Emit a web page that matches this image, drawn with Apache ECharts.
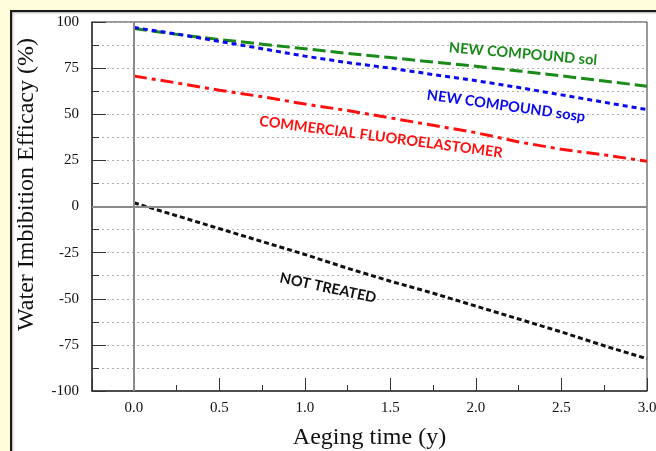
<!DOCTYPE html>
<html>
<head>
<meta charset="utf-8">
<script src="https://cdn.jsdelivr.net/npm/echarts@6/dist/echarts.min.js"></script>
<style>
  html, body { margin: 0; padding: 0; background: #fffddc; }
  #chart { width: 656px; height: 451px; }
</style>
</head>
<body>
<div id="chart"></div>
<script>
const agingTime = [0, 0.25, 0.5, 0.75, 1.0, 1.25, 1.5, 1.75, 2.0, 2.25, 2.5, 2.75, 3.0];
const compoundSol = [96.5, 93.3, 90.5, 88, 85.5, 83, 80.7, 78.3, 76, 73.5, 70.8, 68, 65.2];
const compoundSosp = [97, 93.5, 89.5, 85.5, 81.5, 78, 75, 71.5, 68.2, 64.5, 60.5, 56.5, 52.5];
const fluoroelastomer = [70.7, 67, 63, 59.5, 55.5, 52, 48, 44, 40, 35, 31, 28, 24.5];
const notTreated = [2, -5, -12, -19, -26, -33.5, -40.5, -47, -54, -61, -68, -75.5, -82.5];

const serif = '"Liberation Serif", "DejaVu Serif", serif';
const sans = 'Lato, "Open Sans", sans-serif';

function pairs(values) {
  return agingTime.map((t, i) => [t, values[i]]);
}

function curveLabel(text, x, y, deg, color) {
  return {
    type: 'text',
    x: x,
    y: y,
    rotation: -deg * Math.PI / 180,
    z: 100,
    style: {
      text: text,
      font: 'bold 14.5px ' + sans,
      fill: color,
      textAlign: 'center',
      textVerticalAlign: 'middle'
    }
  };
}

const chart = echarts.init(document.getElementById('chart'));

chart.setOption({
  backgroundColor: '#fffddc',
  animation: false,
  graphic: [
    {
      type: 'rect',
      z: -10,
      shape: { x: 11, y: 11, width: 660, height: 460 },
      style: { fill: '#ffffff', stroke: '#1a1a1a', lineWidth: 2, shadowColor: 'rgba(0,0,0,0.35)', shadowBlur: 2, shadowOffsetX: 1, shadowOffsetY: 1 }
    },
    curveLabel('NEW COMPOUND sol', 523, 54, 5, '#1a8a1a'),
    curveLabel('NEW COMPOUND sosp', 506, 106, 8, '#0a0aee'),
    curveLabel('COMMERCIAL FLUOROELASTOMER', 381, 137, 7.5, '#ff1010'),
    curveLabel('NOT TREATED', 328, 288, 12, '#111111')
  ],
  grid: {
    left: 92,
    top: 22,
    right: 9,
    bottom: 60,
    outerBoundsMode: 'none',
    show: true,
    borderColor: '#333',
    borderWidth: 1,
    backgroundColor: '#ffffff'
  },
  xAxis: {
    type: 'value',
    min: -0.245,
    max: 3.0,
    splitNumber: 6,
    name: 'Aeging time (y)',
    nameLocation: 'middle',
    nameGap: 35,
    nameTextStyle: { fontFamily: serif, fontSize: 24, color: '#111' },
    axisLine: { onZero: false, lineStyle: { color: '#333', width: 1.5 } },
    axisTick: { inside: true, length: 13, lineStyle: { color: '#333', width: 1 } },
    minorTick: { show: true, splitNumber: 2, length: 6, lineStyle: { color: '#333', width: 1 } },
    splitLine: { show: false },
    axisLabel: {
      showMinLabel: false,
      margin: 10,
      fontFamily: serif,
      fontSize: 15,
      color: '#111',
      formatter: v => v.toFixed(1)
    }
  },
  yAxis: {
    type: 'value',
    min: -100,
    max: 100,
    interval: 25,
    name: 'Water Imbibition Efficacy (%)',
    nameLocation: 'middle',
    nameGap: 53,
    nameTextStyle: { fontFamily: serif, fontSize: 24, color: '#111', padding: [0, 0, 0, 44] },
    axisLine: { show: true, onZero: false, lineStyle: { color: '#333', width: 1.5 } },
    axisTick: { show: true, inside: true, length: 14, lineStyle: { color: '#333', width: 1 } },
    minorTick: { show: true, splitNumber: 2, length: 7, lineStyle: { color: '#333', width: 1 } },
    splitLine: { show: true, lineStyle: { color: '#b0b0b0', type: [2, 3], width: 1 } },
    minorSplitLine: { show: true, lineStyle: { color: '#b0b0b0', type: [2, 3], width: 1 } },
    axisLabel: { margin: 13, fontFamily: serif, fontSize: 15, color: '#111' }
  },
  series: [
    {
      name: 'NEW COMPOUND sol',
      type: 'line',
      showSymbol: false,
      data: pairs(compoundSol),
      lineStyle: { color: '#1a8a1a', width: 3, type: [13, 5] },
      markLine: {
        silent: true,
        symbol: 'none',
        label: { show: false },
        lineStyle: { color: '#8a8a8a', width: 2, type: 'solid' },
        data: [{ yAxis: 0 }, { xAxis: 0 }]
      }
    },
    {
      name: 'NEW COMPOUND sosp',
      type: 'line',
      showSymbol: false,
      data: pairs(compoundSosp),
      lineStyle: { color: '#0a0aee', width: 3, type: [5, 4] }
    },
    {
      name: 'COMMERCIAL FLUOROELASTOMER',
      type: 'line',
      showSymbol: false,
      data: pairs(fluoroelastomer),
      lineStyle: { color: '#ff1010', width: 3, type: [13, 5, 4, 5] }
    },
    {
      name: 'NOT TREATED',
      type: 'line',
      showSymbol: false,
      data: pairs(notTreated),
      lineStyle: { color: '#111111', width: 3, type: [5, 3] }
    }
  ]
});
</script>
</body>
</html>
